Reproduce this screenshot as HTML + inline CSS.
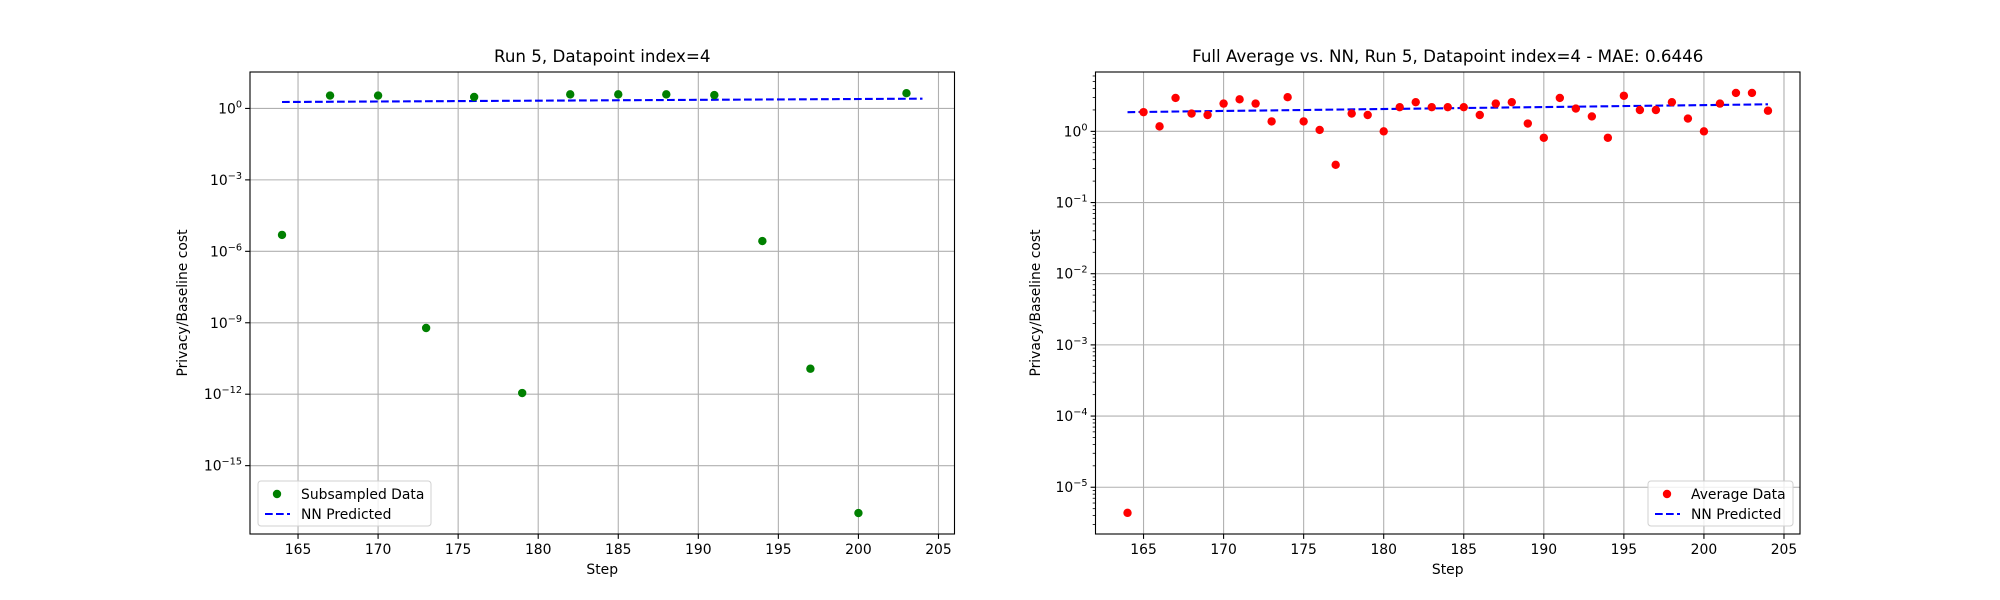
<!DOCTYPE html>
<html><head><meta charset="utf-8"><style>
html,body{margin:0;padding:0;background:#fff}
svg{display:block;font-family:"DejaVu Sans","Liberation Sans",sans-serif}
</style></head><body>
<svg id="fig" width="2000" height="600" viewBox="0 0 2000 600"></svg>
<script>
const leftSteps=[164,167,170,173,176,179,182,185,188,191,194,197,200,203];
const leftLogVals=[-5.31,0.54,0.54,-9.22,0.48,-11.95,0.59,0.59,0.59,0.56,-5.57,-10.93,-16.99,0.64];
const leftNNSteps=[164,204];
const leftNNLog=[0.27,0.41];
const rightSteps=[164,165,166,167,168,169,170,171,172,173,174,175,176,177,178,179,180,181,182,183,184,185,186,187,188,189,190,191,192,193,194,195,196,197,198,199,200,201,202,203,204];
const rightLogVals=[-5.36,0.27,0.07,0.47,0.25,0.23,0.39,0.45,0.39,0.14,0.48,0.14,0.02,-0.47,0.25,0.23,0,0.34,0.41,0.34,0.34,0.34,0.23,0.39,0.41,0.11,-0.09,0.47,0.32,0.21,-0.09,0.5,0.3,0.3,0.41,0.18,0,0.39,0.54,0.54,0.29];
const rightNNSteps=[164,204];
const rightNNLog=[0.27,0.38];
const xTicks=[165,170,175,180,185,190,195,200,205];
const leftYTicks=[0,-3,-6,-9,-12,-15];
const rightYTicks=[0,-1,-2,-3,-4,-5];

const NS="http://www.w3.org/2000/svg";
const svg=document.getElementById('fig');
function el(tag,attrs,parent){const e=document.createElementNS(NS,tag);for(const k in attrs)e.setAttribute(k,attrs[k]);(parent||svg).appendChild(e);return e;}

function drawPanel(cfg){
  const g=el('g',{});
  
  
  const L=cfg.x0,R=cfg.x1,T=72,B=534;
  const sx=v=>L+(v-cfg.xmin)/(cfg.xmax-cfg.xmin)*(R-L);
  const sy=v=>B-(v-cfg.ymin)/(cfg.ymax-cfg.ymin)*(B-T);
  xTicks.forEach(t=>{const x=sx(t);if(x<L||x>R)return;
    const l=el('line',{x1:x,x2:x,y1:T,y2:B,stroke:'#b0b0b0','stroke-width':1.1},g);
    });
  cfg.yTicks.forEach(t=>{const y=sy(t);
    const l=el('line',{x1:L,x2:R,y1:y,y2:y,stroke:'#b0b0b0','stroke-width':1.1},g);
    });
  const nn=el('line',{x1:sx(cfg.nnX[0]),y1:sy(cfg.nnY[0]),x2:sx(cfg.nnX[1]),y2:sy(cfg.nnY[1]),stroke:'#0000ff','stroke-width':2.1,'stroke-dasharray':'7.7,3.3'},g);
  
  cfg.xs.forEach((s,i)=>{
    const c=el('circle',{cx:sx(s),cy:sy(cfg.ys[i]),r:4.2,fill:cfg.color},g);
    });
  const sp=el('rect',{x:L,y:T,width:R-L,height:B-T,fill:'none',stroke:'#000','stroke-width':1.1},g);
  
  xTicks.forEach(t=>{const x=sx(t);
    el('line',{x1:x,x2:x,y1:B,y2:B+4.9,stroke:'#000','stroke-width':1.1},g);
    const tx=el('text',{x:x,y:B+20,'font-size':13.9,'text-anchor':'middle',fill:'#000'},g);
    tx.textContent=t;});
  cfg.yTicks.forEach(t=>{const y=sy(t);
    el('line',{x1:L,x2:L-4.9,y1:y,y2:y,stroke:'#000','stroke-width':1.1},g);
    const tx=el('text',{x:L-8,y:y+5,'font-size':13.9,'text-anchor':'end',fill:'#000'},g);
    
    const a=el('tspan',{},tx);a.textContent='10';
    const b=el('tspan',{dy:-6,'font-size':9.7},tx);b.textContent=(t===0?'0':'\u2212'+(-t));});
  if(cfg.minor){
    for(let d=Math.floor(cfg.ymin);d<Math.ceil(cfg.ymax);d++){
      for(let m=2;m<10;m++){const v=d+Math.log10(m);if(v<cfg.ymin||v>cfg.ymax)continue;
        const y=sy(v);el('line',{x1:L,x2:L-2.8,y1:y,y2:y,stroke:'#000','stroke-width':0.8},g);}
    }
  }
  const ti=el('text',{x:(L+R)/2,y:62,'font-size':16.7,'text-anchor':'middle',fill:'#000'},g);
  ti.textContent=cfg.title;
  const xl=el('text',{x:(L+R)/2,y:574,'font-size':13.9,'text-anchor':'middle',fill:'#000'},g);
  xl.textContent='Step';
  const yl=el('text',{x:0,y:0,'font-size':13.9,'text-anchor':'middle',fill:'#000',transform:`translate(${cfg.ylx},${(T+B)/2}) rotate(-90)`},g);
  yl.textContent='Privacy/Baseline cost';
  const lg=el('g',{},g);
  const lx=cfg.legX,ly=481;
  el('rect',{x:lx,y:ly,width:cfg.legW,height:45,rx:3,fill:'#fff','fill-opacity':0.8,stroke:'#d0d0d0','stroke-width':1},lg);
  el('circle',{cx:lx+19,cy:ly+13,r:4.2,fill:cfg.color},lg);
  el('line',{x1:lx+7,x2:lx+32,y1:ly+33,y2:ly+33,stroke:'#0000ff','stroke-width':2.1,'stroke-dasharray':'7.7,3.3'},lg);
  const t1=el('text',{x:lx+43,y:ly+18,'font-size':13.9,fill:'#000'},lg);t1.textContent=cfg.legLabel;
  
  const t2=el('text',{x:lx+43,y:ly+38,'font-size':13.9,fill:'#000'},lg);t2.textContent='NN Predicted';
  
}
drawPanel({name:'left-chart',x0:250,x1:954.5,xmin:162,xmax:206,ymin:-17.87,ymax:1.53,yTicks:leftYTicks,
  xs:leftSteps,ys:leftLogVals,nnX:leftNNSteps,nnY:leftNNLog,color:'#008000',title:'Run 5, Datapoint index=4',
  ylx:187,legX:258,legW:173,legLabel:'Subsampled Data',minor:false});
drawPanel({name:'right-chart',x0:1095.5,x1:1800,xmin:162,xmax:206,ymin:-5.657,ymax:0.834,yTicks:rightYTicks,
  xs:rightSteps,ys:rightLogVals,nnX:rightNNSteps,nnY:rightNNLog,color:'#ff0000',title:'Full Average vs. NN, Run 5, Datapoint index=4 - MAE: 0.6446',
  ylx:1040,legX:1648,legW:145,legLabel:'Average Data',minor:true});
</script>
</body></html>
